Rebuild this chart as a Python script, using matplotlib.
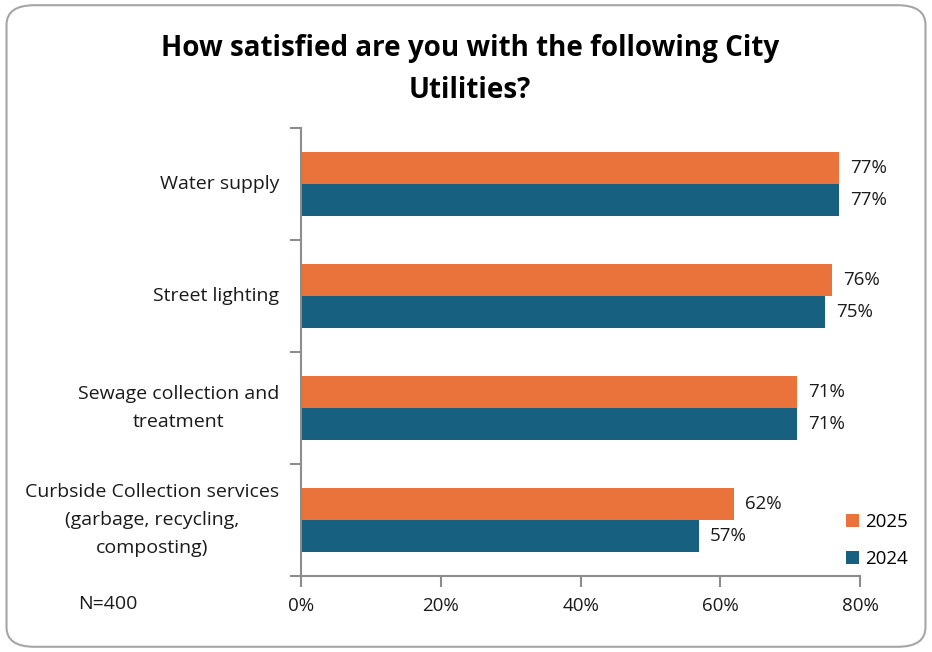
import matplotlib
matplotlib.use("Agg")
import matplotlib.pyplot as plt
from matplotlib.patches import FancyBboxPatch
import numpy as np

categories = ["Water supply", "Street lighting", "Sewage collection and\ntreatment",
              "Curbside Collection services\n(garbage, recycling,\ncomposting)"]
vals_2025 = [77, 76, 71, 62]
vals_2024 = [77, 75, 71, 57]
xticks = [0, 20, 40, 60, 80]

orange = "#E9733A"
blue = "#18607F"
axis_gray = "#8C8C8C"
text_col = "#1a1a1a"

plt.rcParams['font.family'] = ['Open Sans', 'DejaVu Sans']

fig = plt.figure(figsize=(9.32, 6.52), dpi=100)

# rounded outer frame, kept behind the axes
frame = FancyBboxPatch((0.007, 0.008), 0.986, 0.984, boxstyle="round,pad=0,rounding_size=0.03",
                       transform=fig.transFigure, facecolor="none", edgecolor="#A6A6A6",
                       linewidth=1.5, zorder=-1)
fig.patches.append(frame)

ax = fig.add_axes([0.323, 0.1166, 0.600, 0.687])
ax.set_facecolor("none")

y = np.arange(len(categories))
h = 0.285
ax.barh(y - h / 2, vals_2025, height=h, color=orange, label="2025")
ax.barh(y + h / 2, vals_2024, height=h, color=blue, label="2024")

# value labels just past the bar ends
for yi, v in zip(y, vals_2025):
    ax.annotate(f"{v}%", (v, yi - h / 2), xytext=(7.5, 0), textcoords="offset points",
                va="center", ha="left", fontsize=13.5, color=text_col)
for yi, v in zip(y, vals_2024):
    ax.annotate(f"{v}%", (v, yi + h / 2), xytext=(7.5, 0), textcoords="offset points",
                va="center", ha="left", fontsize=13.5, color=text_col)

ax.set_xlim(0, 80)
ax.set_ylim(3.5, -0.5)
ax.set_xticks(xticks)
ax.set_xticklabels([f"{t}%" for t in xticks], fontsize=13.5, color=text_col)
ax.set_yticks(y)
ax.set_yticklabels([])
ax.set_yticks(np.arange(-0.5, 4.0, 1.0), minor=True)
ax.tick_params(axis="y", which="major", length=0)
ax.tick_params(axis="y", which="minor", length=8, color=axis_gray, width=1.5)
ax.tick_params(axis="x", length=8, color=axis_gray, width=1.5, pad=7)

# category labels, right edge near the axis, lines centred among themselves
for yi, cat in zip(y, categories):
    ax.text(-0.039, yi, cat, transform=ax.get_yaxis_transform(), ha="right", va="center",
            multialignment="center", fontsize=14, linespacing=1.72, color=text_col)

for side in ["top", "right"]:
    ax.spines[side].set_visible(False)
for side in ["left", "bottom"]:
    ax.spines[side].set_color(axis_gray)
    ax.spines[side].set_linewidth(1.5)

fig.text(0.504, 0.893, "How satisfied are you with the following City\nUtilities?",
         ha="center", va="center", fontsize=20, fontweight="bold", linespacing=1.6)
fig.text(0.116, 0.074, "N=400", ha="center", va="center", fontsize=14, color=text_col)

handles, labels = ax.get_legend_handles_labels()
fig.legend(handles, labels, loc="center left", bbox_to_anchor=(0.89, 0.171), frameon=False,
           fontsize=13.5, handlelength=0.7, handleheight=0.7, handletextpad=0.3, labelspacing=1.0)

fig.savefig("out.png", dpi=100)
